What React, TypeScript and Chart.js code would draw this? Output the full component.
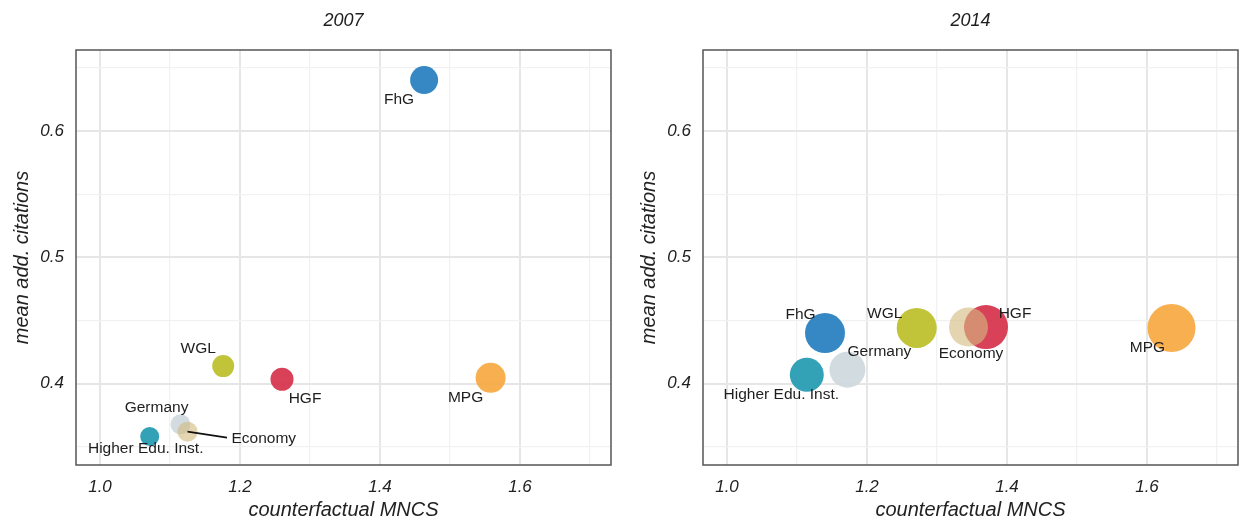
import React, { useEffect, useRef } from 'react';
import { Chart, registerables } from 'chart.js';

Chart.register(...registerables);

// ---------- data ----------
const ORGS = ['Higher Edu. Inst.', 'Germany', 'FhG', 'WGL', 'HGF', 'MPG', 'Economy'];

const MNCS_2007 = [1.071, 1.115, 1.463, 1.176, 1.26, 1.558, 1.125];
const CIT_2007 = [0.358, 0.3677, 0.6403, 0.4138, 0.4034, 0.4045, 0.3619];
const SIZE_2007 = [9.5, 10, 14, 11, 11.5, 15, 10];

const MNCS_2014 = [1.114, 1.172, 1.14, 1.271, 1.37, 1.635, 1.345];
const CIT_2014 = [0.407, 0.411, 0.44, 0.444, 0.4447, 0.444, 0.4447];
const SIZE_2014 = [17, 18, 20, 20, 22, 24, 19.5];

const X_TICKS = [1.0, 1.2, 1.4, 1.6];
const Y_TICKS = [0.4, 0.5, 0.6];

// ---------- styles ----------
const FONT = "'Liberation Sans', Arial, Helvetica, sans-serif";
const X_MIN = 0.9657;
const X_MAX = 1.73;
const Y_MIN = 0.3355;
const Y_MAX = 0.6641;

const COLORS: Record<string, string> = {
  'Higher Edu. Inst.': 'rgba(36,155,177,0.93)',
  Germany: 'rgba(204,215,221,0.9)',
  FhG: 'rgba(38,127,190,0.93)',
  WGL: 'rgba(188,190,40,0.92)',
  HGF: 'rgba(212,44,70,0.9)',
  MPG: 'rgba(246,166,60,0.9)',
  Economy: 'rgba(212,188,128,0.62)',
};

type LabelPos = { dx: number; dy: number; align?: CanvasTextAlign; line?: [number, number] };

const LABELS_2007: Record<string, LabelPos> = {
  'Higher Edu. Inst.': { dx: -4, dy: 12.5 },
  Germany: { dx: -24, dy: -17 },
  FhG: { dx: -25, dy: 19.5 },
  WGL: { dx: -25, dy: -17.5 },
  HGF: { dx: 23, dy: 19.5 },
  MPG: { dx: -25, dy: 20 },
  Economy: { dx: 44, dy: 7, align: 'left', line: [39.5, 6] },
};

const LABELS_2014: Record<string, LabelPos> = {
  'Higher Edu. Inst.': { dx: -25.5, dy: 20 },
  Germany: { dx: 32, dy: -17.5 },
  FhG: { dx: -24.5, dy: -18 },
  WGL: { dx: -32, dy: -14 },
  HGF: { dx: 29, dy: -13.5 },
  MPG: { dx: -24, dy: 20 },
  Economy: { dx: 2.5, dy: 26.5 },
};

const isMajorX = (v: number) => X_TICKS.some((t) => Math.abs(t - v) < 1e-6);
const isMajorY = (v: number) => Y_TICKS.some((t) => Math.abs(t - v) < 1e-6);

function Panel(props: {
  title: string;
  xs: number[];
  ys: number[];
  sizes: number[];
  labels: Record<string, LabelPos>;
  left: number;
  width: number;
}) {
  const { title, xs, ys, sizes, labels, left, width } = props;
  const ref = useRef<HTMLCanvasElement>(null);

  useEffect(() => {
    const canvas = ref.current!;
    const panelPlugin = {
      id: 'panelDecor',
      afterDatasetsDraw(chart: any) {
        const ctx = chart.ctx as CanvasRenderingContext2D;
        const meta = chart.getDatasetMeta(0);
        ctx.save();
        ctx.font = `15.5px ${FONT}`;
        ctx.fillStyle = '#1e1e1e';
        ctx.textBaseline = 'middle';
        ORGS.forEach((org, i) => {
          const el = meta.data[i];
          if (!el) return;
          const p = labels[org];
          if (p.line) {
            ctx.strokeStyle = '#111';
            ctx.lineWidth = 1.6;
            ctx.beginPath();
            ctx.moveTo(el.x, el.y);
            ctx.lineTo(el.x + p.line[0], el.y + p.line[1]);
            ctx.stroke();
          }
          ctx.textAlign = p.align || 'center';
          ctx.fillText(org, el.x + p.dx, el.y + p.dy);
        });
        ctx.restore();
      },
      afterDraw(chart: any) {
        const ctx = chart.ctx as CanvasRenderingContext2D;
        const a = chart.chartArea;
        ctx.save();
        ctx.strokeStyle = '#555';
        ctx.lineWidth = 1.5;
        ctx.strokeRect(a.left, a.top, a.right - a.left, a.bottom - a.top);
        ctx.font = `italic 18px ${FONT}`;
        ctx.fillStyle = '#1e1e1e';
        ctx.textAlign = 'center';
        ctx.textBaseline = 'middle';
        ctx.fillText(title, (a.left + a.right) / 2, 21);
        ctx.restore();
      },
    };

    const chart = new Chart(canvas, {
      type: 'bubble',
      data: {
        datasets: [
          {
            data: ORGS.map((_, i) => ({ x: xs[i], y: ys[i], r: sizes[i] })),
            backgroundColor: ORGS.map((o) => COLORS[o]),
            borderWidth: 0,
            hoverBorderWidth: 0,
          },
        ],
      },
      options: {
        responsive: false,
        animation: false,
        events: [],
        layout: { autoPadding: false, padding: { top: 50, left: 0, right: width - 611, bottom: 0 } },
        plugins: { legend: { display: false }, tooltip: { enabled: false }, title: { display: false } },
        scales: {
          x: {
            type: 'linear',
            min: X_MIN,
            max: X_MAX,
            afterFit: (s: any) => {
              s.height = 57;
            },
            border: { display: false },
            grid: {
              drawTicks: false,
              color: (c: any) => (isMajorX(c.tick.value) ? '#e6e6e6' : '#f1f1f1'),
              lineWidth: (c: any) => (isMajorX(c.tick.value) ? 2 : 1.2),
            },
            ticks: {
              stepSize: 0.1,
              includeBounds: false,
              autoSkip: false,
              maxRotation: 0,
              padding: 12,
              color: '#222',
              font: { family: FONT, size: 17, style: 'italic' },
              callback: (v: any) => (isMajorX(Number(v)) ? Number(v).toFixed(1) : ''),
            },
            title: {
              display: true,
              text: 'counterfactual MNCS',
              color: '#222',
              font: { family: FONT, size: 20, style: 'italic' },
              padding: { top: 0, bottom: 0 },
            },
          },
          y: {
            type: 'linear',
            min: Y_MIN,
            max: Y_MAX,
            afterFit: (s: any) => {
              s.width = 76;
            },
            border: { display: false },
            grid: {
              drawTicks: false,
              color: (c: any) => (isMajorY(c.tick.value) ? '#e6e6e6' : '#f1f1f1'),
              lineWidth: (c: any) => (isMajorY(c.tick.value) ? 2 : 1.2),
            },
            ticks: {
              stepSize: 0.05,
              includeBounds: false,
              autoSkip: false,
              padding: 12,
              color: '#222',
              font: { family: FONT, size: 17, style: 'italic' },
              callback: (v: any) => (isMajorY(Number(v)) ? Number(v).toFixed(1) : ''),
            },
            title: {
              display: true,
              text: 'mean add. citations',
              color: '#222',
              font: { family: FONT, size: 20, style: 'italic' },
              padding: { top: 10, bottom: 0 },
            },
          },
        },
      } as any,
      plugins: [panelPlugin],
    });
    return () => chart.destroy();
  }, []);

  return (
    <canvas
      ref={ref}
      width={width}
      height={522}
      style={{ position: 'absolute', left, top: 0, width, height: 522, display: 'block' }}
    />
  );
}

export default function App() {
  return (
    <div
      style={{
        position: 'fixed',
        left: 0,
        top: 0,
        width: 1239,
        height: 522,
        background: '#fff',
        overflow: 'hidden',
      }}
    >
      <Panel title="2007" xs={MNCS_2007} ys={CIT_2007} sizes={SIZE_2007} labels={LABELS_2007} left={0} width={627} />
      <Panel title="2014" xs={MNCS_2014} ys={CIT_2014} sizes={SIZE_2014} labels={LABELS_2014} left={627} width={612} />
    </div>
  );
}
